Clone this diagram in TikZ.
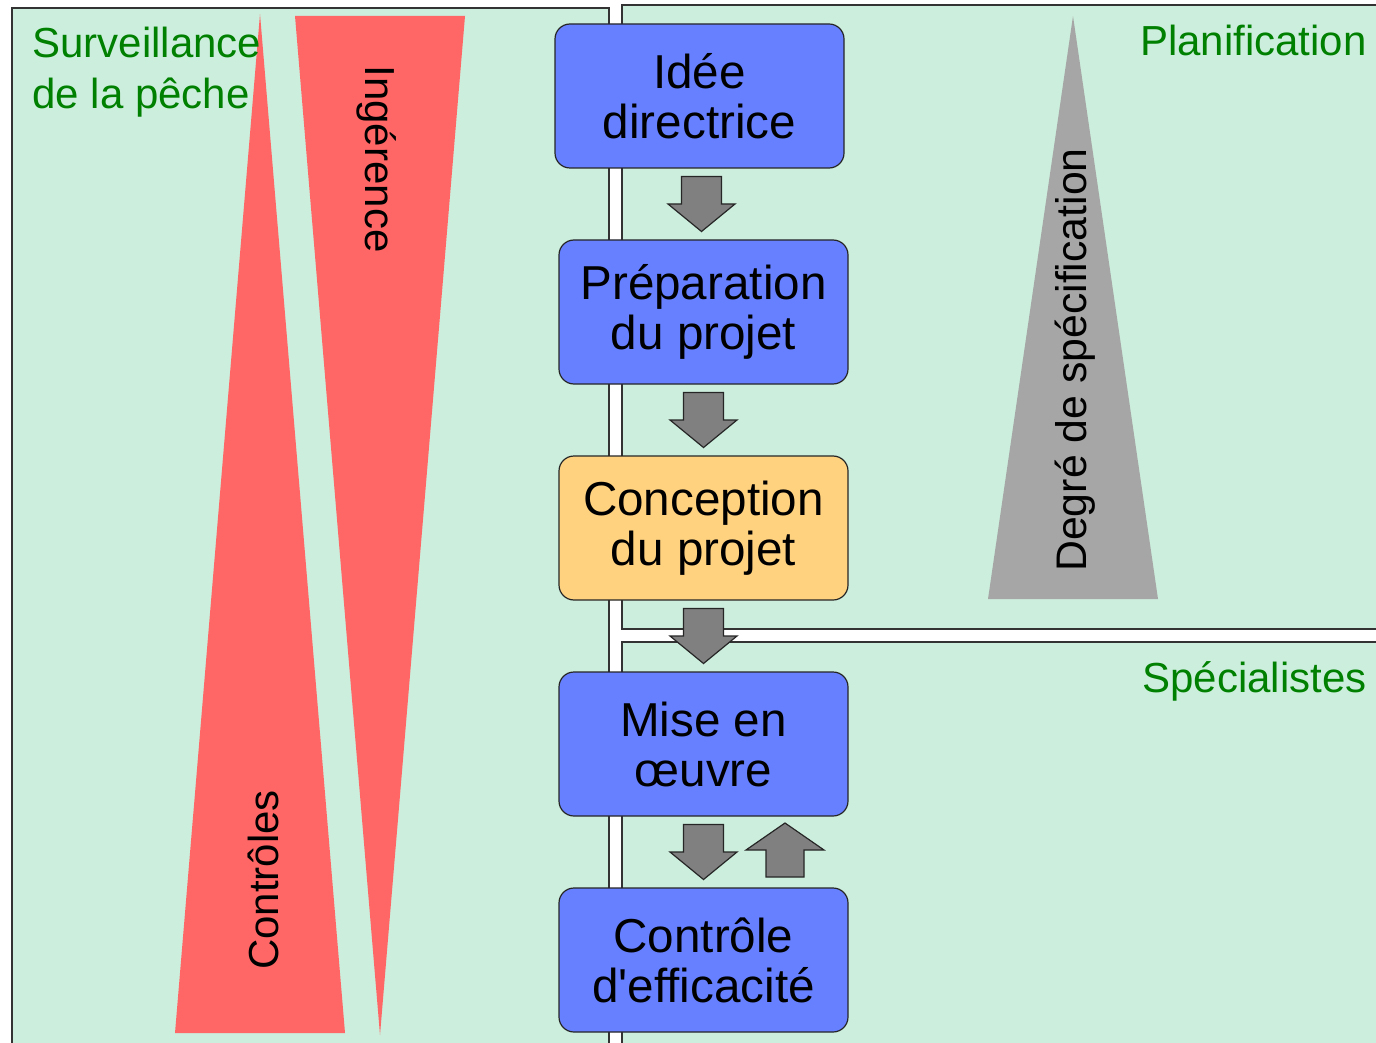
\documentclass[tikz,border=0pt]{standalone}
\usepackage{fontspec}
\setmainfont{Liberation Sans}[Ligatures=TeXOff]
\usetikzlibrary{calc}

\definecolor{panelgreen}{HTML}{CCEEDD}
\definecolor{stageblue}{HTML}{6680FF}
\definecolor{stageorange}{HTML}{FFD280}
\definecolor{wedgered}{HTML}{FF6666}
\definecolor{flowgray}{HTML}{808080}
\definecolor{spikegray}{HTML}{A6A6A6}
\definecolor{groupgreen}{HTML}{008000}

\tikzset{
  panel/.style={draw=black!80, fill=panelgreen, line width=0.75pt},
  stage/.style={draw=black!85, fill=stageblue, rounded corners=7.5pt,
    minimum width=144.5pt, minimum height=72pt, inner sep=0pt,
    align=center, font=\fontsize{23.8}{25}\selectfont, line width=0.6pt},
  grouptext/.style={text=groupgreen, inner sep=0pt, align=left,
    font=\fontsize{21}{25.5}\selectfont},
  sidetext/.style={inner sep=0pt, font=\fontsize{21}{25}\selectfont},
  flow/.style={draw=black!85, fill=flowgray, line width=0.6pt},
  pics/flowdown/.style={code={
    \draw[flow] (-20,-27.5) -- (20,-27.5) -- (20,0) -- (33.5,0) -- (0,27.5)
      -- (-33.5,0) -- (-20,0) -- cycle;}},
  pics/flowup/.style={code={
    \draw[flow] (-19,27) -- (19,27) -- (19,0) -- (39,0) -- (0,-27)
      -- (-39,0) -- (-19,0) -- cycle;}},
}

\begin{document}
\begin{tikzpicture}[x=0.5pt,y=-0.5pt]
   \useasboundingbox (0,0) rectangle (1376,1043);
   \clip (0,0) rectangle (1376,1043);

   % panels
   \draw[panel] (12,8) rectangle (609,1070);
   \draw[panel] (622,5) rectangle (1400,629);
   \draw[panel] (622,642) rectangle (1400,1070);

   % wedges
   \fill[wedgered] (260,14) -- (345,1033) -- (175,1033) -- cycle;
   \fill[wedgered] (295,16) -- (465,16) -- (380,1035) -- cycle;
   \fill[spikegray] (1073,16) -- (1158,599) -- (988,599) -- cycle;

   \node[sidetext, rotate=90] (ctrls) at (263,880) {Contrôles};
   \node[sidetext, rotate=-90] (ingr) at (377,159) {Ingérence};
   \node[sidetext, rotate=90, font=\fontsize{21.4}{26}\selectfont] (degre) at (1075,360) {Degré de spécification};

   \node[grouptext, anchor=north west] (surv) at (32,27) {Surveillance\\de la pêche};
   \node[grouptext, anchor=north east] (plan) at (1367,25) {Planification};
   \node[grouptext, anchor=north east] (spec) at (1367,661) {Spécialistes};

   % stages
   \node[stage] (idee) at (699.5,96) {Idée\\directrice};
   \node[stage] (prep) at (703.5,312) {Préparation\\du projet};
   \node[stage, fill=stageorange] (concep) at (703.5,528) {Conception\\du projet};
   \node[stage] (mise) at (703.5,744) {Mise en\\œuvre};
   \node[stage] (ctrl) at (703.5,960) {Contrôle\\d'efficacité};

   % flow between stages
   \pic at ($(idee.south)!0.5!(prep.north)$) {flowdown};
   \pic at ($(prep.south)!0.5!(concep.north)$) {flowdown};
   \pic at ($(concep.south)!0.5!(mise.north)$) {flowdown};
   \pic at ($(mise.south)!0.5!(ctrl.north)$) {flowdown};
   \pic at ($(mise.south)!0.5!(ctrl.north)+(81.5,-2)$) {flowup};

\end{tikzpicture}
\end{document}
